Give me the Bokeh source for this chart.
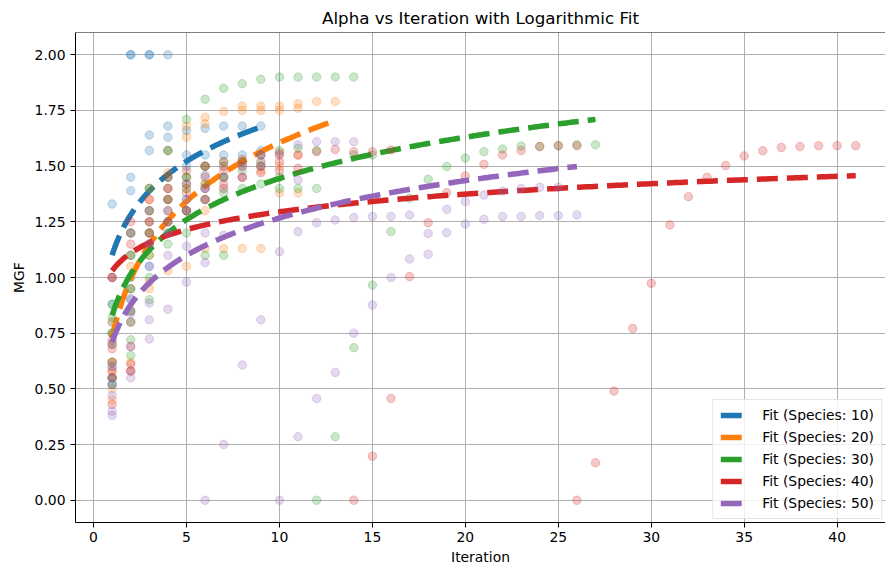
import numpy as np
from bokeh.plotting import figure
from bokeh.models import (Range1d, FixedTicker, NumeralTickFormatter, Span,
                          Legend, LegendItem)
from bokeh.embed import file_html
from bokeh.resources import INLINE

# ---- data: MGF per iteration for each species count ----
species = [10, 20, 30, 40, 50]
colors = ["#1f77b4", "#ff7f0e", "#2ca02c", "#d62728", "#9467bd"]

iter_s10 = [1]*8 + [2]*10 + [3]*10 + [4]*9 + [5]*7 + [6]*5 + [7]*4 + [8]*3 + [9]*3
mgf_s10 = [1.33, 0.88, 0.80, 0.75, 0.60, 0.55, 0.52, 1.00,
           2.00, 2.00, 1.45, 1.39, 1.20, 1.10, 1.00, 0.95, 0.90, 0.85,
           2.00, 2.00, 1.64, 1.57, 1.40, 1.30, 1.25, 1.20, 1.15, 1.05,
           2.00, 1.68, 1.63, 1.57, 1.45, 1.40, 1.35, 1.30, 1.20,
           1.66, 1.55, 1.50, 1.45, 1.42, 1.35, 1.30,
           1.67, 1.55, 1.50, 1.46, 1.40,
           1.68, 1.55, 1.50, 1.45,
           1.68, 1.55, 1.52,
           1.68, 1.57, 1.52]

iter_s20 = [1]*8 + [2]*7 + [3]*7 + [4]*6 + [5]*6 + [6]*7 + [7]*5 + [8]*5 + [9]*5 + [10]*5 + [11]*4 + [12] + [13]
mgf_s20 = [0.75, 0.70, 0.62, 0.58, 0.55, 0.50, 0.45, 0.80,
           1.10, 1.05, 0.95, 0.85, 0.80, 0.62, 0.58,
           1.40, 1.35, 1.25, 1.20, 1.10, 0.98, 0.95,
           1.57, 1.47, 1.40, 1.35, 1.25, 1.03,
           1.68, 1.63, 1.45, 1.40, 1.30, 1.05,
           1.72, 1.69, 1.50, 1.42, 1.35, 1.30, 1.13,
           1.745, 1.50, 1.45, 1.40, 1.13,
           1.77, 1.75, 1.52, 1.45, 1.13,
           1.77, 1.75, 1.52, 1.48, 1.13,
           1.77, 1.75, 1.55, 1.50, 1.38,
           1.78, 1.76, 1.55, 1.38,
           1.79,
           1.79]

iter_s30 = ([1]*7 + [2]*7 + [3]*6 + [4]*5 + [5]*5 + [6]*5 + [7]*5 + [8]*4 + [9]*4 + [10]*4
            + [11]*3 + [12]*4 + [13]*2 + [14]*3 + [15]*2
            + [16, 17, 18, 19, 20, 21, 22, 23, 24, 25, 26, 27])
mgf_s30 = [0.88, 0.82, 0.75, 0.70, 0.62, 0.55, 0.52,
           1.20, 1.10, 0.95, 0.85, 0.80, 0.72, 0.65,
           1.40, 1.30, 1.20, 1.10, 1.00, 0.90,
           1.57, 1.45, 1.35, 1.25, 1.15,
           1.71, 1.45, 1.40, 1.30, 1.20,
           1.80, 1.50, 1.42, 1.35, 1.10,
           1.85, 1.52, 1.45, 1.38, 1.10,
           1.87, 1.52, 1.48, 1.40,
           1.89, 1.55, 1.50, 1.42,
           1.90, 1.57, 1.45, 1.40,
           1.90, 1.58, 1.40,
           1.90, 1.57, 1.40, 0.00,
           1.90, 0.285,
           1.90, 1.55, 0.685,
           1.55, 0.966,
           1.206, 1.356, 1.441, 1.498, 1.536, 1.565, 1.577, 1.590, 1.588, 1.592, 1.596, 1.596]

iter_s40 = ([1]*8 + [2]*6 + [3]*5 + [4]*5 + [5]*4 + [6]*4 + [7]*3 + [8]*3 + [9]*3 + [10]*3
            + [11]*2 + [12, 13] + [14]*2 + [15]*2 + [16]*2
            + [17, 18, 19, 20, 21, 22, 23, 24, 25] + [26]*2
            + [27, 28, 29, 30, 31, 32, 33, 34, 35, 36, 37, 38, 39, 40, 41])
mgf_s40 = [1.00, 1.00, 0.72, 0.68, 0.62, 0.58, 0.43, 0.55,
           1.25, 1.20, 1.15, 0.69, 0.61, 0.58,
           1.35, 1.30, 1.25, 1.20, 1.15,
           1.45, 1.40, 1.35, 1.30, 1.25,
           1.48, 1.42, 1.38, 1.30,
           1.50, 1.45, 1.40, 1.35,
           1.52, 1.48, 1.42,
           1.53, 1.50, 1.45,
           1.55, 1.50, 1.47,
           1.56, 1.52, 1.48,
           1.49, 1.55,
           1.565, 1.575,
           1.565, 0.00,
           1.565, 0.198,
           1.573, 0.457,
           1.004, 1.246, 1.381, 1.456, 1.508, 1.550, 1.570, 1.588, 1.592,
           1.592, 0.00,
           0.168, 0.490, 0.771, 0.974, 1.236, 1.363, 1.450, 1.503, 1.546,
           1.569, 1.584, 1.588, 1.592, 1.592, 1.592]

iter_s50 = ([1]*7 + [2]*6 + [3]*5 + [4]*4 + [5]*4 + [6]*5 + [7]*4 + [8]*3 + [9]*3 + [10]*3
            + [11]*4 + [12]*3 + [13]*3 + [14]*3 + [15]*2 + [16]*2 + [17]*2 + [18]*2
            + [19]*2 + [20]*2 + [21]*2 + [22]*2 + [23]*2 + [24]*2 + [25]*2 + [26])
mgf_s50 = [0.70, 0.47, 0.40, 0.38, 0.52, 0.55, 0.60,
           0.906, 0.84, 0.80, 0.58, 0.55, 0.69,
           1.05, 0.885, 0.81, 0.724, 1.15,
           1.20, 0.858, 1.10, 1.25,
           1.14, 0.98, 1.30, 1.35,
           1.20, 1.067, 0.00, 1.35, 1.40,
           1.19, 0.25, 1.40, 1.45,
           0.607, 1.45, 1.50,
           0.81, 1.50, 1.55,
           1.116, 0.00, 1.55,
           1.206, 1.438, 0.285, 1.596,
           1.246, 1.61, 0.457,
           1.258, 1.61, 0.574,
           1.269, 1.61, 0.75,
           1.274, 0.876,
           1.274, 1.00,
           1.281, 1.083,
           1.198, 1.104,
           1.306, 1.201,
           1.341, 1.24,
           1.37, 1.261,
           1.388, 1.274,
           1.40, 1.274,
           1.405, 1.278,
           1.405, 1.278,
           1.281]

iterations = [iter_s10, iter_s20, iter_s30, iter_s40, iter_s50]
mgf_values = [mgf_s10, mgf_s20, mgf_s30, mgf_s40, mgf_s50]

# logarithmic fit  MGF = a + b * ln(iteration)
fit_intercept = [1.10, 0.73, 0.83, 1.03, 0.71]
fit_slope = [0.262, 0.38, 0.267, 0.115, 0.242]

y_ticks = [0.0, 0.25, 0.5, 0.75, 1.0, 1.25, 1.5, 1.75, 2.0]
x_ticks = [0, 5, 10, 15, 20, 25, 30, 35, 40]

FONT = "DejaVu Sans"

p = figure(width=885, height=567, output_backend="svg", toolbar_location=None,
           x_range=Range1d(-0.97, 42.6), y_range=Range1d(-0.1, 2.1),
           min_border_left=75, min_border_right=0, min_border_top=0,
           min_border_bottom=45, background_fill_color="white",
           border_fill_color="white")
p.outline_line_color = None

p.title.text = "Alpha vs Iteration with Logarithmic Fit"
p.title.text_font = FONT
p.title.text_font_size = "16.7px"
p.title.text_font_style = "normal"
p.title.text_color = "black"
p.title.align = "center"
p.title.offset = 4
p.title.standoff = 10

for ax in (p.xaxis[0], p.yaxis[0]):
    ax.axis_line_color = "black"
    ax.axis_line_width = 1
    ax.major_tick_line_color = "black"
    ax.major_tick_out = 5
    ax.major_tick_in = 0
    ax.minor_tick_line_color = None
    ax.major_label_text_font = FONT
    ax.major_label_text_font_size = "13.9px"
    ax.major_label_text_color = "black"
    ax.axis_label_text_font = FONT
    ax.axis_label_text_font_size = "13.9px"
    ax.axis_label_text_font_style = "normal"
    ax.axis_label_text_color = "black"

p.xaxis[0].ticker = FixedTicker(ticks=x_ticks)
p.xaxis[0].axis_label = "Iteration"
p.xaxis[0].major_label_standoff = 4
p.xaxis[0].axis_label_standoff = 4
p.yaxis[0].ticker = FixedTicker(ticks=y_ticks)
p.yaxis[0].formatter = NumeralTickFormatter(format="0.00")
p.yaxis[0].axis_label = "MGF"
p.yaxis[0].major_label_standoff = 5
p.yaxis[0].axis_label_standoff = 5

for g in (p.xgrid[0], p.ygrid[0]):
    g.grid_line_color = "#b0b0b0"
    g.grid_line_width = 1
p.xgrid[0].ticker = FixedTicker(ticks=x_ticks)
p.ygrid[0].ticker = FixedTicker(ticks=y_ticks)

# top spine
p.add_layout(Span(location=2.1, dimension="width", line_color="black", line_width=1))

items = []
for sp, col, xs, ys, a, b in zip(species, colors, iterations, mgf_values,
                                 fit_intercept, fit_slope):
    p.scatter(xs, ys, size=8.5, marker="circle", fill_color=col, fill_alpha=0.25,
              line_color=col, line_alpha=0.25, line_width=1)
    xf = np.linspace(1, max(xs), 200)
    yf = a + b * np.log(xf)
    r = p.line(xf, yf, line_color=col, line_width=5.5, line_dash="21 9")
    items.append(LegendItem(label=f"Fit (Species: {sp})", renderers=[r]))

legend = Legend(items=items, location="bottom_right")
legend.label_text_font = FONT
legend.label_text_font_size = "13.9px"
legend.label_text_color = "black"
legend.glyph_width = 28
legend.glyph_height = 16
legend.label_height = 16
legend.label_standoff = 14
legend.spacing = 6
legend.padding = 7
legend.margin = 3
legend.border_line_color = "#cccccc"
legend.border_line_width = 1
legend.background_fill_alpha = 0.8
p.add_layout(legend)

open("out.html", "w").write(file_html(p, INLINE))
